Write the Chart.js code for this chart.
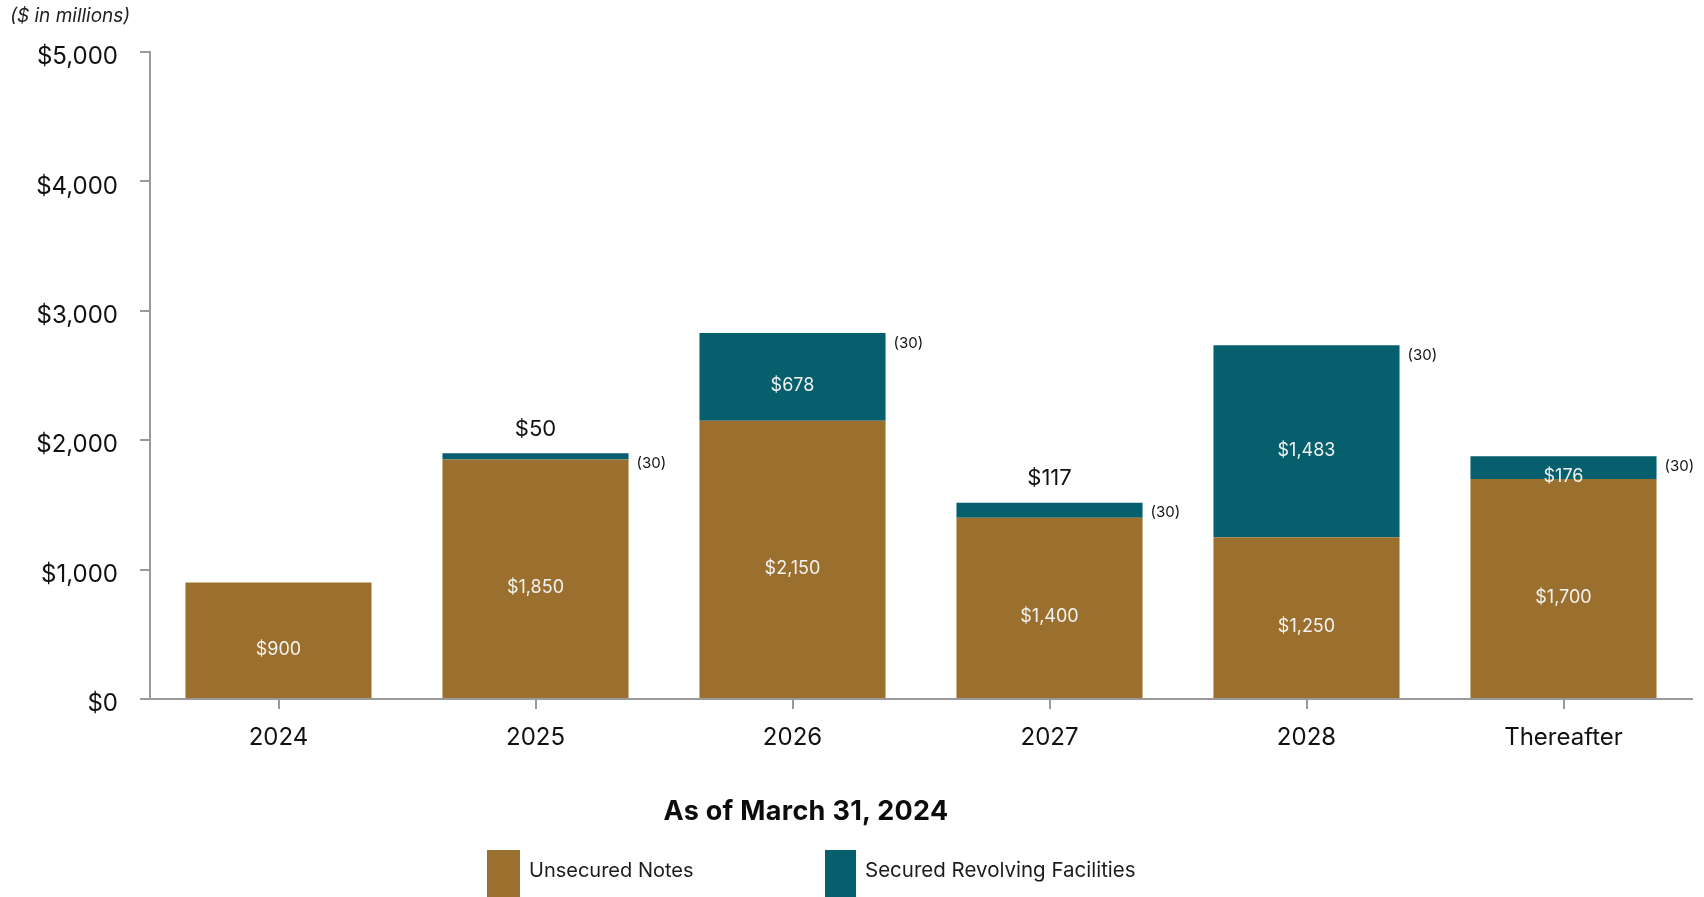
<!DOCTYPE html>
<html>
<head>
<meta charset="utf-8">
<script src="https://cdn.jsdelivr.net/npm/chart.js@4.4.1/dist/chart.umd.min.js"></script>
<style>
  html,body{margin:0;padding:0;background:#fff;}
  #wrap{position:relative;width:1704px;height:897px;overflow:hidden;font-family:Inter,"Noto Sans",sans-serif;color:#111;}
  #wrap canvas{position:absolute;left:0;top:0;}
  .unit{position:absolute;left:10px;top:4px;font-size:19px;font-style:italic;color:#222;}
  .ttl{position:absolute;left:556px;width:500px;top:794px;text-align:center;font-size:27px;font-weight:700;letter-spacing:0.3px;color:#0c0c0c;}
  .sw{position:absolute;top:850px;height:47px;}
  .lt{position:absolute;top:857px;font-size:20px;color:#1c1c1c;line-height:26px;}
</style>
</head>
<body>
<div id="wrap">
  <canvas id="c"></canvas>
  <div class="unit">($ in millions)</div>
  <div class="ttl">As of March 31, 2024</div>
  <div class="sw" style="left:487px;width:33px;background:#9b702e"></div>
  <div class="lt" style="left:529px">Unsecured Notes</div>
  <div class="sw" style="left:825px;width:31px;background:#055f6d"></div>
  <div class="lt" style="left:865px;font-size:20.5px">Secured Revolving Facilities</div>
</div>
<script>
const years=['2024','2025','2026','2027','2028','Thereafter'];
const unsecured=[900,1850,2150,1400,1250,1700];
const secured=[0,50,678,117,1483,176];
const issueCosts=[null,30,30,30,30,30];
const yTicks=[0,1000,2000,3000,4000,5000];

const BRONZE='#9b702e', TEAL='#055f6d', AXIS='#9a9a9a';
const money=v=>'$'+v.toLocaleString('en-US');

// value labels inside / above each segment, plus the (30) note at the stack top
const barLabels={
  id:'barLabels',
  afterDatasetsDraw(chart){
    const ctx=chart.ctx;
    ctx.save();
    ctx.textAlign='center';ctx.textBaseline='middle';
    chart.data.datasets.forEach((ds,di)=>{
      chart.getDatasetMeta(di).data.forEach((el,i)=>{
        const v=ds.data[i];
        if(!v)return;
        if(di===1&&v<150){
          ctx.fillStyle='#111';ctx.font='22px Inter';
          ctx.fillText(money(v),el.x,el.y-24);
        }else{
          ctx.fillStyle='#f2f2f2';ctx.font='18px Inter';
          ctx.fillText(money(v),el.x,(el.y+el.base)/2+9);
        }
      });
    });
    const top=chart.getDatasetMeta(1).data;
    ctx.textAlign='left';ctx.fillStyle='#111';ctx.font='15px Inter';
    issueCosts.forEach((c,i)=>{
      if(c==null)return;
      const el=top[i];
      ctx.fillText('('+c+')',el.x+el.width/2+8,el.y+10);
    });
    ctx.restore();
  }
};

new Chart(document.getElementById('c'),{
  type:'bar',
  data:{
    labels:years,
    datasets:[
      {label:'Unsecured Notes',data:unsecured,backgroundColor:BRONZE},
      {label:'Secured Revolving Facilities',data:secured,backgroundColor:TEAL}
    ]
  },
  options:{
    responsive:true,maintainAspectRatio:false,animation:false,
    layout:{padding:{left:0,right:12,top:52,bottom:0}},
    datasets:{bar:{barPercentage:0.724,categoryPercentage:1,borderWidth:0}},
    plugins:{legend:{display:false},tooltip:{enabled:false}},
    scales:{
      x:{
        stacked:true,
        grid:{display:true,drawOnChartArea:false,offset:false,tickLength:10,color:AXIS,lineWidth:2},
        border:{color:AXIS,width:2},
        ticks:{color:'#111',font:{family:'Inter',size:24},padding:14},
        afterFit(s){s.height=198;}
      },
      y:{
        stacked:true,min:0,max:5000,
        afterBuildTicks(s){s.ticks=yTicks.map(v=>({value:v}));},
        grid:{display:true,drawOnChartArea:false,tickLength:10,color:AXIS,lineWidth:2},
        border:{color:AXIS,width:2},
        ticks:{color:'#111',font:{family:'Inter',size:24},padding:22,labelOffset:5,callback:v=>money(v)},
        afterFit(s){s.width=150;}
      }
    }
  },
  plugins:[barLabels]
});
</script>
</body>
</html>
